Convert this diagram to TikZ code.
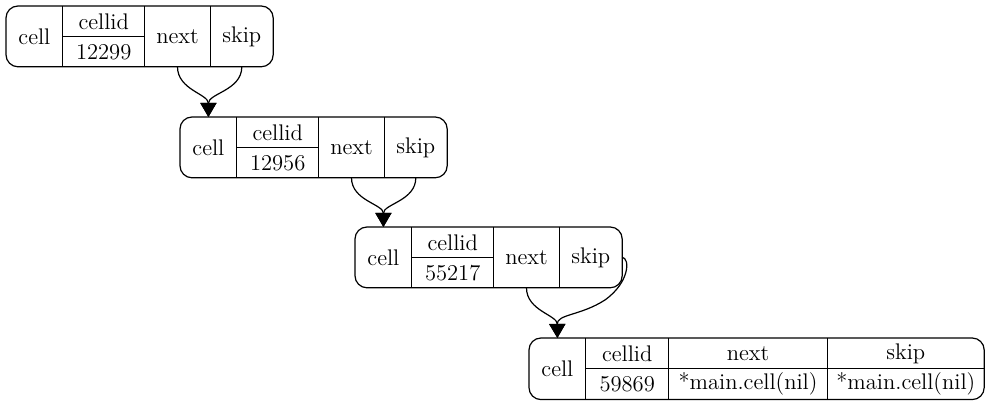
\documentclass[tikz,border=0pt]{standalone}
\usetikzlibrary{arrows.meta}
\begin{document}
\begin{tikzpicture}[x=0.5pt, y=-0.5pt,
      fld/.style={inner sep=0pt, minimum height=30pt, anchor=north west,
                  font=\fontsize{11.3}{13}\selectfont},
      half/.style={fld, minimum height=15pt},
      rec/.style={line width=0.6pt, rounded corners=6pt},
      sep/.style={line width=0.6pt},
      arr/.style={-{Triangle[length=7pt,width=8pt]}, line width=0.6pt}
    ]
    \useasboundingbox (0,0) rectangle (987,405);
    % Three linked cells
    \foreach \i/\x/\y/\id in {1/6/6/12299, 2/180/117/12956, 3/355/227/55217} {
      \node[fld, minimum width=28pt] (r\i-cell) at (\x,\y) {cell};
      \node[half, minimum width=40.5pt] (r\i-idt) at (r\i-cell.north east) {cellid};
      \node[half, minimum width=40.5pt] (r\i-id) at (r\i-idt.south west) {\id};
      \node[fld, minimum width=32.5pt] (r\i-next) at (r\i-idt.north east) {next};
      \node[fld, minimum width=31pt] (r\i-skip) at (r\i-next.north east) {skip};
      \draw[rec] (r\i-cell.north west) rectangle (r\i-skip.south east);
      \draw[sep] (r\i-cell.north east) -- (r\i-cell.south east);
      \draw[sep] (r\i-next.north west) -- (r\i-next.south west);
      \draw[sep] (r\i-skip.north west) -- (r\i-skip.south west);
      \draw[sep] (r\i-idt.south west) -- (r\i-idt.south east);
    }
    % Last cell
    \node[fld, minimum width=28pt] (r4-cell) at (529,338) {cell};
    \node[half, minimum width=41pt] (r4-idt) at (r4-cell.north east) {cellid};
    \node[half, minimum width=41pt] (r4-id) at (r4-idt.south west) {59869};
    \node[half, minimum width=79pt] (r4-nextt) at (r4-idt.north east) {next};
    \node[half, minimum width=79pt] (r4-next) at (r4-nextt.south west) {*main.cell(nil)};
    \node[half, minimum width=78pt] (r4-skipt) at (r4-nextt.north east) {skip};
    \node[half, minimum width=78pt] (r4-skip) at (r4-skipt.south west) {*main.cell(nil)};
    \draw[rec] (r4-cell.north west) rectangle (r4-skip.south east);
    \draw[sep] (r4-cell.north east) -- (r4-cell.south east);
    \draw[sep] (r4-nextt.north west) -- (r4-next.south west);
    \draw[sep] (r4-skipt.north west) -- (r4-skip.south west);
    \draw[sep] (r4-idt.south west) -- (r4-skipt.south east);
    % Links
    \draw[arr] (r1-next.south) to[out=-90,in=90] (r2-cell.north);
    \draw[arr] (r1-skip.south) to[out=-90,in=90] (r2-cell.north);
    \draw[arr] (r2-next.south) to[out=-90,in=90] (r3-cell.north);
    \draw[arr] (r2-skip.south) to[out=-90,in=90] (r3-cell.north);
    \draw[arr] (r3-next.south) to[out=-90,in=90] (r4-cell.north);
    \draw[arr] (r3-skip.east) .. controls (630,258) and (630,282) .. (605,300)
               .. controls (580,316) and (557,314) .. (r4-cell.north);
  \end{tikzpicture}
\end{document}
